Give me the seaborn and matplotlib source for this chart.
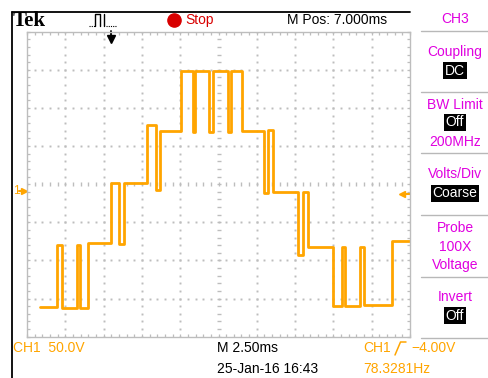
import numpy as np
import pandas as pd
import matplotlib
matplotlib.use("Agg")
import matplotlib.pyplot as plt
import matplotlib.transforms as mtransforms
from matplotlib.lines import Line2D
import seaborn as sns

# Channel 1 staircase: transition instants (ms) and the level held after each one (V)
edge_ms = [-4.65, -3.56, -3.23, -2.26, -2.04, -1.50, 0.00, 0.53, 0.85, 2.35, 2.90, 3.18,
           4.53, 5.32, 5.47, 6.38, 6.64, 7.62, 7.82, 8.51, 9.97, 10.25, 10.58, 12.21,
           12.50, 12.86, 14.49, 15.04, 15.26, 16.24, 16.52, 18.31]
level_v = [-152, -71, -153, -71, -153, -68, 10, -70, 10, 87, 1, 79,
           157, 77, 157, 77, 157, 78, 157, 79, -3, 80, -1, -84,
           -1, -73, -151, -74, -151, -74, -150, -66]
record_end_ms = 19.5

# Scope settings
time_per_div_ms = 2.5
volts_per_div = 50.0
h_position_ms = 7.0
ch1_position_div = -0.18
trigger_level_v = -4.0

# Readout texts
top_texts = ["Stop", "M Pos: 7.000ms", "CH3"]
bottom_texts = ["CH1  50.0V", "M 2.50ms", "25-Jan-16 16:43", "CH1", "\u22124.00V", "78.3281Hz"]

# Build the vertices of the stepped trace
tt, vv = [], []
for i, (t, v) in enumerate(zip(edge_ms, level_v)):
    if i > 0:
        tt.append(t)
        vv.append(level_v[i - 1])
    tt.append(t)
    vv.append(v)
tt.append(record_end_ms)
vv.append(level_v[-1])
trace = pd.DataFrame({"t_ms": tt, "volts": vv})

sns.set_style("white")
plt.rcParams["font.family"] = ["Liberation Sans", "DejaVu Sans"]

W, H = 489, 378
fig = plt.figure(figsize=(W / 100, H / 100), dpi=100)
fig.patch.set_facecolor("white")


def fx(x):
    return x / W


def fy(y):
    return 1 - y / H


ORANGE = "#FFA500"
MAGENTA = "#E000E0"
RED = "#D80000"
GRID = "#BDBDBD"

# Graticule area
gx0, gx1, gy0, gy1 = 27, 410, 31.7, 336.7
ax = fig.add_axes([fx(gx0), fy(gy1), (gx1 - gx0) / W, (gy1 - gy0) / H])
x_lo = h_position_ms - 5 * time_per_div_ms
x_hi = h_position_ms + 5 * time_per_div_ms
y_mid = -ch1_position_div * volts_per_div
y_lo, y_hi = y_mid - 4 * volts_per_div, y_mid + 4 * volts_per_div
ax.set_xlim(x_lo, x_hi)
ax.set_ylim(y_lo, y_hi)

xmaj = np.linspace(x_lo, x_hi, 11)
ymaj = np.linspace(y_lo, y_hi, 9)
xmin = np.linspace(x_lo, x_hi, 51)
ymin = np.linspace(y_lo, y_hi, 41)

ax.set_xticks(xmaj)
ax.set_yticks(ymaj)
ax.set_xticks(xmin, minor=True)
ax.set_yticks(ymin, minor=True)
ax.tick_params(which="both", direction="in", top=True, right=True, bottom=True, left=True,
               labelbottom=False, labelleft=False, color=GRID, width=0.9)
ax.tick_params(which="major", length=2.4)
ax.tick_params(which="minor", length=2.4)
for s in ax.spines.values():
    s.set_color(GRID)
    s.set_linewidth(1.0)

# Dotted division lines
dot_kw = dict(ls="none", marker="s", ms=1.4, mec="none", mfc=GRID)
for x in xmaj[1:-1]:
    if abs(x - h_position_ms) > 1e-6:
        ax.plot(np.full(len(ymin), x), ymin, **dot_kw)
for y in ymaj[1:-1]:
    if abs(y - y_mid) > 1e-6:
        ax.plot(xmin, np.full(len(xmin), y), **dot_kw)
# Centre cross with fine ticks
ax.plot(xmin, np.full(len(xmin), y_mid), ls="none", marker="|", ms=3.2, mew=1.0, color=GRID)
ax.plot(np.full(len(ymin), h_position_ms), ymin, ls="none", marker="_", ms=3.2, mew=1.0, color=GRID)

# Channel 1 trace
sns.lineplot(data=trace, x="t_ms", y="volts", sort=False, estimator=None,
             color=ORANGE, lw=2.0, ax=ax, legend=False)
ax.set_xlabel("")
ax.set_ylabel("")

# Ground marker, trigger level and trigger position
left_tr = mtransforms.blended_transform_factory(fig.transFigure, ax.transData)
ax.plot([fx(19), fx(24)], [0, 0], transform=left_tr, color=ORANGE, lw=1.5, clip_on=False)
ax.plot([fx(24.5)], [0], transform=left_tr, marker=">", ms=4.5, color=ORANGE, clip_on=False)
fig.text(fx(13.5), 0, "1", transform=left_tr, color=ORANGE, fontsize=8.5, va="center", ha="left")
ax.plot([fx(402), fx(410)], [trigger_level_v] * 2, transform=left_tr, color=ORANGE, lw=1.5, clip_on=False)
ax.plot([fx(402)], [trigger_level_v], transform=left_tr, marker="<", ms=4.5, color=ORANGE, clip_on=False)

top_tr = mtransforms.blended_transform_factory(ax.transData, fig.transFigure)
ax.plot([0.0, 0.0], [fy(31), fy(38)], transform=top_tr, color="black", lw=1.3, clip_on=False)
ax.plot([0.0], [fy(39)], transform=top_tr, marker="v", ms=5.5, color="black", clip_on=False)

# Frame lines
fig.add_artist(Line2D([fx(12), fx(12)], [fy(12), fy(378)], color="black", lw=1.3))
fig.add_artist(Line2D([fx(12), fx(410.5)], [fy(12), fy(12)], color="black", lw=1.3))
for yy in [30.7, 91.7, 153.3, 215, 276.7, 338]:
    fig.add_artist(Line2D([fx(421), fx(489)], [fy(yy), fy(yy)], color="#B8B8B8", lw=1.0))

# Top readouts
fig.text(fx(13), fy(21), "Tek", family=["Liberation Serif"], fontweight="bold", fontsize=15,
         color="black", ha="left", va="center")
pulse_x = [95.5, 95.5, 100.5, 100.5]
pulse_y = [26, 13.5, 13.5, 26]
fig.add_artist(Line2D([fx(v) for v in pulse_x], [fy(v) for v in pulse_y], color="black", lw=1.0))
fig.add_artist(Line2D([fx(104.5), fx(104.5)], [fy(13.5), fy(26)], color="black", lw=1.0))
fig.add_artist(Line2D([fx(88.5), fx(95)], [fy(26), fy(26)], color="black", lw=0.8, ls=(0, (1, 1))))
fig.add_artist(Line2D([fx(105.5), fx(117)], [fy(26), fy(26)], color="black", lw=0.8, ls=(0, (1, 1))))
fig.add_artist(Line2D([fx(173.5)], [fy(20)], marker="o", ms=9.5, color=RED, mec=RED))
fig.text(fx(185), fy(20), top_texts[0], color=RED, fontsize=10, ha="left", va="center")
fig.text(fx(287), fy(20), top_texts[1], color="black", fontsize=10, ha="left", va="center")
fig.text(fx(455), fy(19), top_texts[2], color=MAGENTA, fontsize=10, ha="center", va="center")

# Side menu
menu_plain = [("Coupling", 52), ("BW Limit", 105), ("200MHz", 141.7), ("Volts/Div", 174),
              ("Probe", 228), ("100X", 247), ("Voltage", 265), ("Invert", 297)]
for s, yy in menu_plain:
    fig.text(fx(455), fy(yy), s, color=MAGENTA, fontsize=10, ha="center", va="center")
menu_boxed = [("DC", 70.7), ("Off", 122.5), ("Coarse", 193.5), ("Off", 315.5)]
for s, yy in menu_boxed:
    fig.text(fx(455), fy(yy), s, color="white", fontsize=10, ha="center", va="center",
             bbox=dict(facecolor="black", edgecolor="none", pad=1.2))

# Bottom readouts
fig.text(fx(13), fy(348), bottom_texts[0], color=ORANGE, fontsize=10, ha="left", va="center")
fig.text(fx(217), fy(348), bottom_texts[1], color="black", fontsize=10, ha="left", va="center")
fig.text(fx(217), fy(369), bottom_texts[2], color="black", fontsize=10, ha="left", va="center")
fig.text(fx(363), fy(348), bottom_texts[3], color=ORANGE, fontsize=10, ha="left", va="center")
fig.add_artist(Line2D([fx(395), fx(400.5), fx(406)], [fy(355), fy(342), fy(342)], color=ORANGE, lw=1.1))
fig.text(fx(411), fy(348), bottom_texts[4], color=ORANGE, fontsize=10, ha="left", va="center")
fig.text(fx(363), fy(369), bottom_texts[5], color=ORANGE, fontsize=10, ha="left", va="center")

fig.savefig("out.png", dpi=100, facecolor="white")
